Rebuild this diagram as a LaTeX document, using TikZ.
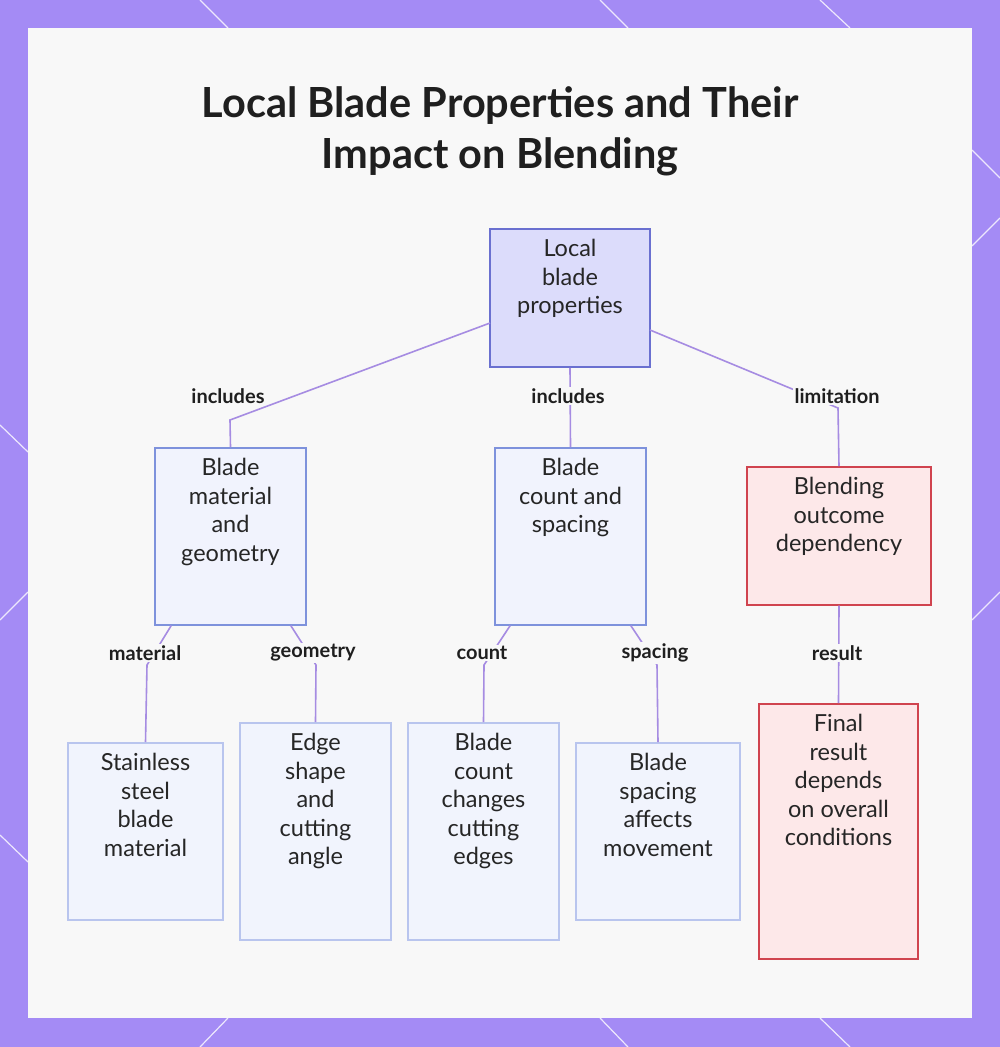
\documentclass[tikz,border=0pt]{standalone}
\usepackage{fontspec}
\setmainfont{Lato}
\begin{document}
\begin{tikzpicture}[x=1pt,y=-1pt,
  box/.style={draw=#1,line width=1.6pt},
  txt/.style={anchor=north,align=center,font=\fontsize{23.5}{28.5}\selectfont,text=black!85,inner sep=0pt},
  lnk/.style={draw=lnkc,line width=1.6pt},
  lab/.style={font=\bfseries\fontsize{20}{22}\selectfont,text=black!88,fill=panel,inner sep=1.5pt}]
\definecolor{frame}{HTML}{A48BF5}
\definecolor{panel}{HTML}{F8F8F8}
\definecolor{lnkc}{HTML}{A68CE2}
\definecolor{rootb}{HTML}{6A70D0}\definecolor{rootf}{HTML}{DCDCFB}
\definecolor{midb}{HTML}{7E92DC}\definecolor{midf}{HTML}{F1F3FD}
\definecolor{leafb}{HTML}{B9C5EE}\definecolor{leaff}{HTML}{F1F4FD}
\definecolor{redb}{HTML}{D0444F}\definecolor{redf}{HTML}{FDE8E9}
\useasboundingbox (0,0) rectangle (1000,1047);
\fill[frame] (0,0) rectangle (1000,1047);
\begin{scope}[white!80!frame,line width=1.2pt]
\draw (200,0)--(228,28); \draw (600,0)--(628,28); \draw (820,0)--(850,28);
\draw (972,150)--(1000,178); \draw (972,246)--(1000,218); \draw (972,620)--(1000,592);
\draw (0,425)--(28,452); \draw (0,620)--(28,592); \draw (0,835)--(28,862);
\draw (200,1047)--(228,1018); \draw (600,1018)--(628,1047); \draw (820,1018)--(850,1047);
\end{scope}
\fill[panel] (28,28) rectangle (972,1018);
\node[font=\bfseries\fontsize{41.5}{51}\selectfont,align=center,text=black!88] (title) at (500,131) {Local Blade Properties and Their\\Impact on Blending};
\node[box=rootb,fill=rootf,minimum width=160pt,minimum height=138pt] (root) at (570,298) {};
\node[box=midb,fill=midf,minimum width=151pt,minimum height=177pt,anchor=north] (A) at (230.5,447) {};
\node[box=midb,fill=midf,minimum width=151pt,minimum height=177pt,anchor=north] (B) at (570.5,447) {};
\node[box=redb,fill=redf,minimum width=184pt,minimum height=138pt,anchor=north] (C) at (839,466) {};
\node[box=leafb,fill=leaff,minimum width=155pt,minimum height=177pt,anchor=north] (L1) at (145.5,742) {};
\node[box=leafb,fill=leaff,minimum width=151pt,minimum height=217pt,anchor=north] (L2) at (315.5,722) {};
\node[box=leafb,fill=leaff,minimum width=151pt,minimum height=217pt,anchor=north] (L3) at (483.5,722) {};
\node[box=leafb,fill=leaff,minimum width=164pt,minimum height=177pt,anchor=north] (L4) at (658,742) {};
\node[box=redb,fill=redf,minimum width=159pt,minimum height=255pt,anchor=north] (L5) at (838.5,703) {};
\node[txt] (rootT) at ([yshift=-11pt]root.north) {Local\\blade\\properties};
\node[txt] (AT) at ([yshift=-11pt]A.north) {Blade\\material\\and\\geometry};
\node[txt] (BT) at ([yshift=-11pt]B.north) {Blade\\count and\\spacing};
\node[txt] (CT) at ([yshift=-11pt]C.north) {Blending\\outcome\\dependency};
\node[txt] (L1T) at ([yshift=-11pt]L1.north) {Stainless\\steel\\blade\\material};
\node[txt] (L2T) at ([yshift=-11pt]L2.north) {Edge\\shape\\and\\cutting\\angle};
\node[txt] (L3T) at ([yshift=-11pt]L3.north) {Blade\\count\\changes\\cutting\\edges};
\node[txt] (L4T) at ([yshift=-11pt]L4.north) {Blade\\spacing\\affects\\movement};
\node[txt] (L5T) at ([yshift=-11pt]L5.north) {Final\\result\\depends\\on overall\\conditions};
\coordinate (ra) at (490,323); \coordinate (rc) at (650,330);
\draw[lnk] (ra)--(230,420)--(A.north);
\draw[lnk] (root.south)--(B.north);
\draw[lnk] (rc)--(838,408)--(C.north);
\draw[lnk] ([xshift=17pt]A.south west)--(147,665)--(L1.north);
\draw[lnk] ([xshift=-16pt]A.south east)--(316,665)--(L2.north);
\draw[lnk] ([xshift=16pt]B.south west)--(484,665)--(L3.north);
\draw[lnk] ([xshift=-16pt]B.south east)--(657,665)--(L4.north);
\draw[lnk] (C.south)--(L5.north);
\node[lab] (l1) at (228,396) {includes};
\node[lab] (l2) at (568,396) {includes};
\node[lab] (l3) at (837,396) {limitation};
\node[lab] (l4) at (145,653) {material};
\node[lab] (l5) at (313,653) {geometry};
\node[lab] (l6) at (482,653) {count};
\node[lab] (l7) at (655,653) {spacing};
\node[lab] (l8) at (837,653) {result};
\end{tikzpicture}
\end{document}
